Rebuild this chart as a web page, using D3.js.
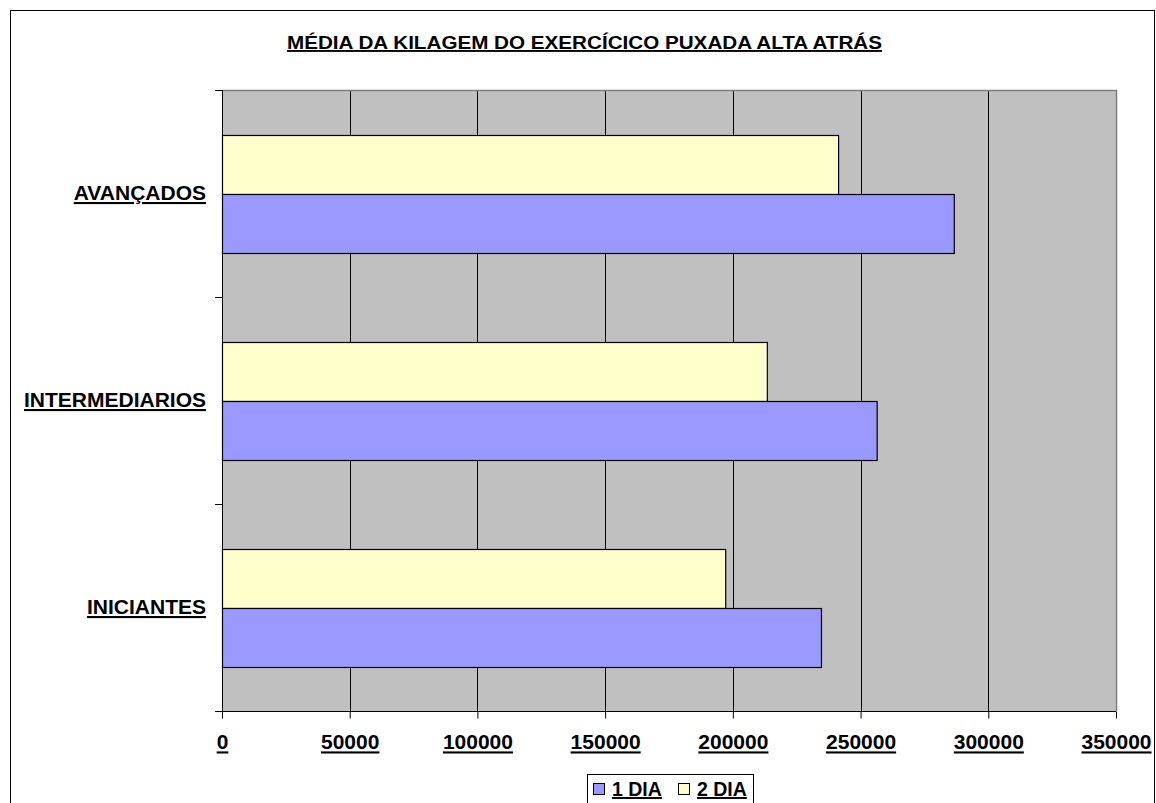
<!DOCTYPE html>
<html>
<head>
<meta charset="utf-8">
<script src="https://cdn.jsdelivr.net/npm/d3@7"></script>
<style>
  html, body { margin: 0; padding: 0; background: #fff; }
  svg { display: block; font-family: "Liberation Sans", Arial, sans-serif; }
</style>
</head>
<body>
<svg id="chart" width="1156" height="803"></svg>
<script>
// Categories listed top to bottom
const categories = ["AVANÇADOS", "INTERMEDIARIOS", "INICIANTES"];
const seriesNames = ["1 DIA", "2 DIA"];
const dia1 = [286500, 256300, 234500];
const dia2 = [241200, 213300, 197000];
const xTicks = [0, 50000, 100000, 150000, 200000, 250000, 300000, 350000];
const seriesColors = ["#9999FF", "#FFFFCC"];
const title = "MÉDIA DA KILAGEM DO EXERCÍCICO PUXADA ALTA ATRÁS";

const svg = d3.select("#chart");
const plot = { left: 222, top: 90, right: 1116, bottom: 711 };

// outer chart frame
svg.append("rect")
  .attr("x", 10.5).attr("y", 10.5)
  .attr("width", 1144).attr("height", 820)
  .attr("fill", "#fff").attr("stroke", "#000").attr("stroke-width", 1);

const x = d3.scaleLinear().domain([0, 350000]).range([plot.left, plot.right]);
const y = d3.scaleBand().domain(categories).range([plot.top, plot.bottom]).paddingInner(0).paddingOuter(0);

// plot area background
svg.append("rect")
  .attr("x", plot.left).attr("y", plot.top)
  .attr("width", plot.right - plot.left).attr("height", plot.bottom - plot.top)
  .attr("fill", "#C0C0C0");

// vertical gridlines
svg.append("g").selectAll("line")
  .data(xTicks.slice(1, -1))
  .join("line")
  .attr("x1", d => Math.round(x(d)) + 0.5).attr("x2", d => Math.round(x(d)) + 0.5)
  .attr("y1", plot.top).attr("y2", plot.bottom)
  .attr("stroke", "#000").attr("stroke-width", 1);

// plot border (top / right)
svg.append("path")
  .attr("d", `M${plot.left},${plot.top + 0.5}H${plot.right + 0.5}V${plot.bottom}`)
  .attr("fill", "none").attr("stroke", "#808080").attr("stroke-width", 1.5);

// bars: within each band, 2 DIA above, 1 DIA below
const inner = d3.scaleBand().domain(["2 DIA", "1 DIA"]).range([0, y.bandwidth()]).paddingOuter(0.755).paddingInner(0);
const rows = categories.map((c, i) => ({ cat: c, values: [
  { series: "2 DIA", v: dia2[i], color: seriesColors[1] },
  { series: "1 DIA", v: dia1[i], color: seriesColors[0] }
]}));

const g = svg.append("g");
rows.forEach(r => {
  r.values.forEach(d => {
    g.append("rect")
      .attr("x", x(0) + 0.5)
      .attr("y", Math.round(y(r.cat) + inner(d.series)) + 0.5)
      .attr("width", x(d.v) - x(0))
      .attr("height", Math.round(inner.bandwidth()))
      .attr("fill", d.color)
      .attr("stroke", "#000").attr("stroke-width", 1.2);
  });
});

// x axis
const xAxis = svg.append("g")
  .attr("transform", `translate(0,${plot.bottom + 0.5})`)
  .call(d3.axisBottom(x).tickValues(xTicks).tickSize(7).tickPadding(16).tickFormat(d3.format("d")));
xAxis.select(".domain").attr("d", `M${plot.left - 7},0H${plot.right}`).attr("stroke", "#000");
xAxis.selectAll("text")
  .attr("font-size", 21).attr("font-weight", "bold").attr("fill", "#000")
  .attr("text-decoration", "underline")
  .attr("font-family", "Liberation Sans, Arial, sans-serif");

// y axis (category ticks sit at band boundaries)
const yAxisG = svg.append("g");
yAxisG.append("line")
  .attr("x1", plot.left + 0.5).attr("x2", plot.left + 0.5)
  .attr("y1", plot.top).attr("y2", plot.bottom + 7)
  .attr("stroke", "#000");
const boundaries = categories.map(c => y(c)).concat([plot.bottom]);
yAxisG.selectAll("line.tick")
  .data(boundaries)
  .join("line").attr("class", "tick")
  .attr("x1", plot.left - 7).attr("x2", plot.left)
  .attr("y1", d => Math.round(d) + 0.5).attr("y2", d => Math.round(d) + 0.5)
  .attr("stroke", "#000");
yAxisG.selectAll("text")
  .data(categories)
  .join("text")
  .attr("x", 206)
  .attr("y", d => y(d) + y.bandwidth() / 2 + 6.5)
  .attr("text-anchor", "end")
  .attr("font-size", 21).attr("font-weight", "bold")
  .attr("text-decoration", "underline")
  .text(d => d);

// title
svg.append("text")
  .attr("x", 584.5).attr("y", 49)
  .attr("text-anchor", "middle")
  .attr("font-size", 19).attr("font-weight", "bold")
  .attr("text-decoration", "underline")
  .attr("textLength", 595).attr("lengthAdjust", "spacingAndGlyphs")
  .text(title);

// legend
const legend = svg.append("g");
legend.append("rect")
  .attr("x", 587.5).attr("y", 774.5).attr("width", 166).attr("height", 40)
  .attr("fill", "#fff").attr("stroke", "#000");
const legItems = [
  { name: seriesNames[0], color: seriesColors[0], x: 593 },
  { name: seriesNames[1], color: seriesColors[1], x: 678 }
];
legItems.forEach(it => {
  legend.append("rect")
    .attr("x", it.x + 0.5).attr("y", 783.5).attr("width", 11).attr("height", 11)
    .attr("fill", it.color).attr("stroke", "#000");
  legend.append("text")
    .attr("x", it.x + 19).attr("y", 796)
    .attr("font-size", 19.5).attr("font-weight", "bold")
    .attr("text-decoration", "underline")
    .text(it.name);
});
</script>
</body>
</html>
